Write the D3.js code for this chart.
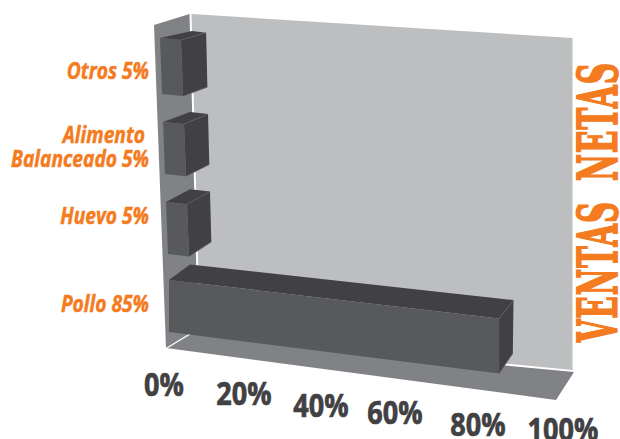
<!DOCTYPE html>
<html>
<head>
<meta charset="utf-8">
<script src="https://cdn.jsdelivr.net/npm/d3@7/dist/d3.min.js"></script>
<style>
  html, body { margin: 0; padding: 0; background: #fff; overflow: hidden; }
  svg { display: block; }
</style>
</head>
<body>
<svg id="chart" width="620" height="439"></svg>
<script>
// Sales share by product, drawn as a hand-projected 3D horizontal bar chart
const categories = ["Pollo", "Huevo", "Alimento Balanceado", "Otros"];
const values = [85, 5, 5, 5];
const tickValues = [0, 20, 40, 60, 80, 100];
const tickLabels = ["0%", "20%", "40%", "60%", "80%", "100%"];
const axisTitleWords = ["VENTAS", "NETAS"];
const categoryLabels = [["Pollo 85%"], ["Huevo 5%"], ["Alimento", "Balanceado 5%"], ["Otros 5%"]];

const ORANGE = "#f47b20", DARK = "#414042", FRONT = "#58595b",
      WALL = "#bcbec0", SIDE = "#808285";

const svg = d3.select("#chart");
const line = pts => "M" + pts.map(p => p.join(",")).join("L") + "Z";

// Room: back wall, floor and left wall
const room = svg.append("g");
room.append("path").attr("fill", WALL)
  .attr("d", line([[191.5, 14], [572.5, 38], [572.5, 370], [200, 334]]));
room.append("path").attr("fill", SIDE)
  .attr("d", line([[166, 348], [198, 331], [510, 366], [574, 372], [556, 400]]));
room.append("path").attr("fill", SIDE)
  .attr("d", line([[154, 25], [189.5, 14], [198, 331], [166, 348]]));
room.append("path").attr("fill", "none").attr("stroke", "#fff").attr("stroke-width", 1.2)
  .attr("d", "M166,348.5L198,329");

// Scales on the front plane of the projection
const barTop = d3.scaleOrdinal().domain(categories).range([280, 202, 122, 38]);
const barBottom = d3.scaleOrdinal().domain(categories).range([332, 254, 174, 94]);
const xLength = d3.scaleLinear().domain([0, 100]).range([1.7, 388]);
const frontLeft = d3.scaleLinear().domain([38, 122, 202, 280, 332]).range([160, 163, 166, 169, 169]);
const slope = d3.scaleLinear().domain([38, 332]).range([0.09, 0.122]);

// Offset from a front corner to the matching back corner
const depth = ([x, y]) => [
  x + 23 - 0.023 * (x - 187) + (203 - y) * 0.012,
  y - (5.67 + 0.035 * y) - 0.005 * Math.max(0, x - 187)
];
const BACK_LEFT_X = 190;

const rows = categories.map((name, i) => {
  const top = barTop(name), bottom = barBottom(name), len = xLength(values[i]);
  const tl = [frontLeft(top), top];
  const bl = [frontLeft(bottom), bottom];
  const tr = [tl[0] + len, top + len * slope(top)];
  const br = [bl[0] + len, bottom + len * (slope(bottom) + 0.004)];
  return { name, tl, bl, tr, br };
});

// Bars are painted from the rear of the stack forward
const bars = svg.append("g").selectAll("g").data(rows.slice().reverse()).join("g");
bars.append("path").attr("fill", DARK)
  .attr("d", d => line([d.tl, [BACK_LEFT_X + (d.name === "Otros" ? 2 : 0), depth(d.tl)[1]], depth(d.tr), d.tr]));
bars.append("path").attr("fill", DARK)
  .attr("d", d => line([d.tr, depth(d.tr), depth(d.br), d.br]));
bars.append("path").attr("fill", FRONT)
  .attr("d", d => line([d.tl, d.tr, d.br, d.bl]));
bars.append("path").attr("fill", "none").attr("stroke", "#5f6062").attr("stroke-width", 0.8)
  .attr("d", d => "M" + d.tr.join(",") + "L" + depth(d.tr).join(",") + "M" + d.br.join(",") + "L" + depth(d.br).join(","));

// Category labels, right aligned against the left wall
const labelBase = d3.scaleOrdinal().domain(categories).range([312, 224, 167, 79]);
const labels = svg.append("g")
  .attr("font-family", "'Open Sans', sans-serif").attr("font-weight", 700)
  .attr("font-style", "italic").attr("font-size", 24).attr("fill", ORANGE)
  .attr("stroke", ORANGE).attr("stroke-width", 0.5)
  .attr("text-anchor", "end");
const LABEL_SQUEEZE = 0.8;
categories.forEach((name, i) => {
  const rowsOfText = categoryLabels[i];
  rowsOfText.forEach((t, j) => {
    const y = labelBase(name) - (rowsOfText.length - 1 - j) * 24;
    const x = rowsOfText.length > 1 && j === 0 ? 145 : 149;
    labels.append("text").text(t)
      .attr("transform", `translate(${x},${y}) scale(${LABEL_SQUEEZE},1)`);
  });
});

// Value axis labels follow the receding floor edge
const tickX = d3.scaleLinear().domain(tickValues).range([164, 244, 321, 395, 478, 563]);
const tickY = d3.scaleLinear().domain(tickValues).range([396, 405, 417, 424, 436, 441]);
svg.append("g")
  .attr("font-family", "'Open Sans', sans-serif").attr("font-weight", 700)
  .attr("font-size", 33).attr("fill", DARK)
  .attr("stroke", DARK).attr("stroke-width", 0.7).attr("text-anchor", "middle")
  .selectAll("text").data(tickValues).join("text")
  .text((d, i) => tickLabels[i])
  .attr("transform", d => `translate(${tickX(d)},${tickY(d)}) scale(0.82,1)`);

// Vertical slab-serif title down the right side, one element per word
const titleStart = [342, 181];
const titleLength = [141, 119];
svg.append("g")
  .attr("font-family", "'DejaVu Serif', serif").attr("font-weight", 700)
  .attr("font-size", 54).attr("fill", ORANGE)
  .attr("stroke", ORANGE).attr("stroke-width", 1.9)
  .attr("letter-spacing", 2)
  .selectAll("text").data(axisTitleWords).join("text")
  .text(d => d)
  .attr("transform", (d, i) => `translate(616.5,${titleStart[i]}) rotate(-90)`)
  .attr("textLength", (d, i) => titleLength[i])
  .attr("lengthAdjust", "spacingAndGlyphs");
</script>
</body>
</html>
